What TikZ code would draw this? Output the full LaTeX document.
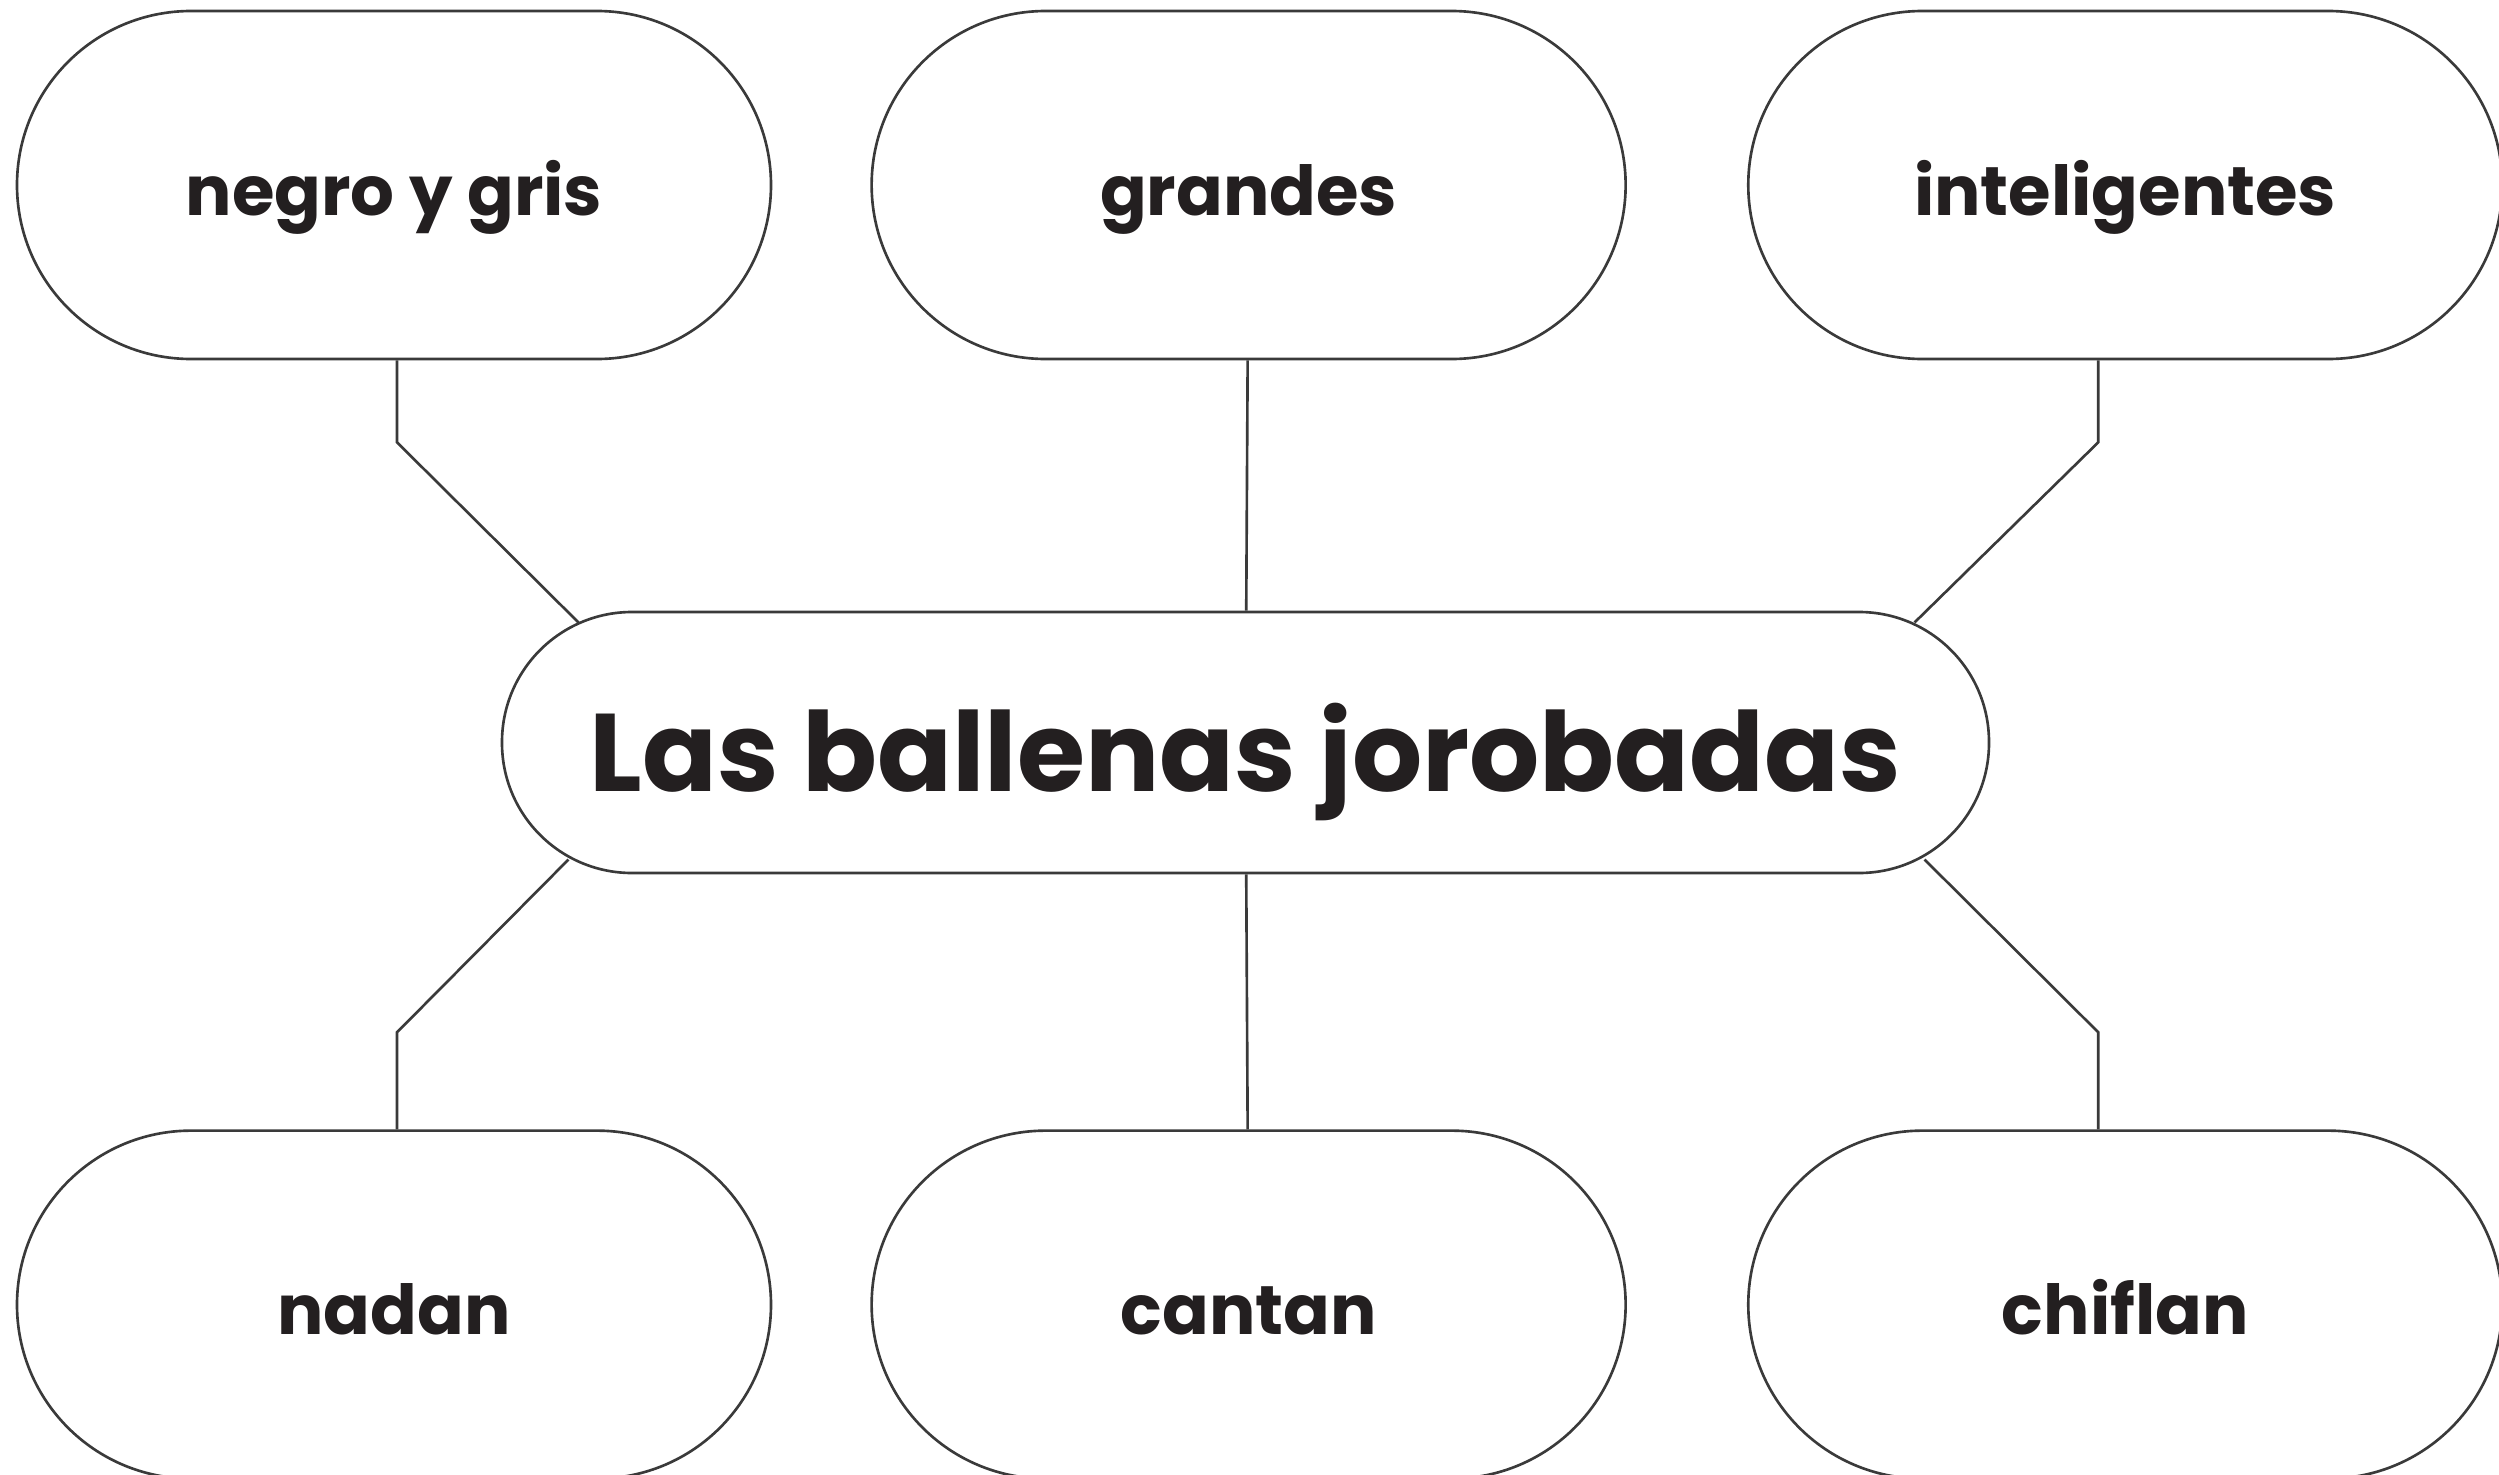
\documentclass[tikz,border=0pt]{standalone}
\usepackage{fontspec}
\setmainfont{Poppins}
\usepackage{tikz}
\usetikzlibrary{calc, positioning}
\usepackage{xcolor}
\definecolor{linea}{HTML}{3A3A3A}
\definecolor{texto}{HTML}{231F20}

\begin{document}
\begin{tikzpicture}[
    pill/.style={draw=linea, line width=0.75pt, rectangle, rounded corners=1.74cm,
      minimum width=7.54cm, minimum height=3.48cm, text=texto,
      text height=0.6cm, text depth=0cm,
      font=\fontsize{19.6}{24}\selectfont\bfseries},
    centro/.style={pill, rounded corners=1.3cm, minimum width=14.87cm,
      minimum height=2.61cm, text height=0.98cm,
      font=\fontsize{31.4}{38}\selectfont\bfseries},
    conector/.style={draw=linea, line width=0.75pt}
  ]
      \useasboundingbox (0,0) rectangle (24.99,-14.75);
      % fila de arriba
      \node[pill] (negro) at (3.94,-1.85) {negro y gris};
      \node[pill, right=0.98cm of negro] (grandes) {grandes};
      \node[pill, right=1.2cm of grandes] (intel) {inteligentes};
      % centro
      \node[centro] (ballenas) at (12.455,-7.425) {Las ballenas jorobadas};
      % fila de abajo
      \node[pill, below=7.69cm of negro] (nadan) {nadan};
      \node[pill, right=0.98cm of nadan] (cantan) {cantan};
      \node[pill, right=1.2cm of cantan] (chiflan) {chiflan};
      % puntos de union
      \coordinate (j1) at ($(ballenas.center)+(-6.67,1.2)$);
      \coordinate (j2) at ($(ballenas.center)+(6.69,1.2)$);
      \coordinate (j3) at ($(ballenas.center)+(-6.77,-1.17)$);
      \coordinate (j4) at ($(ballenas.center)+(6.79,-1.17)$);
      \draw[conector] ([xshift=0.03cm]negro.south) -- ++(0,-0.82) -- (j1);
      \draw[conector] (grandes) -- (ballenas);
      \draw[conector] ([xshift=-0.27cm]intel.south) -- ++(0,-0.82) -- (j2);
      \draw[conector] ([xshift=0.03cm]nadan.north) -- ++(0,0.97) -- (j3);
      \draw[conector] (cantan) -- (ballenas);
      \draw[conector] ([xshift=-0.27cm]chiflan.north) -- ++(0,0.97) -- (j4);
    \end{tikzpicture}
\end{document}
